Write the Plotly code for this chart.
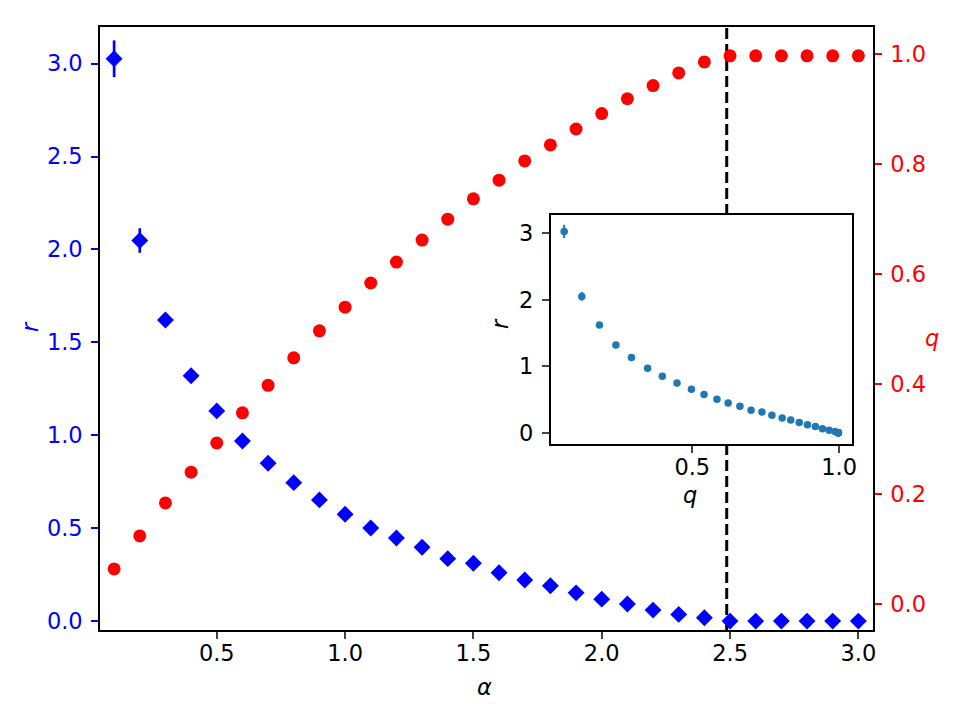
import plotly.graph_objects as go

alpha = [round(0.1 * i, 1) for i in range(1, 31)]
r_vals = [3.026, 2.048, 1.62, 1.32, 1.131, 0.969, 0.849, 0.745, 0.652, 0.575,
          0.501, 0.447, 0.397, 0.336, 0.311, 0.260, 0.221, 0.190, 0.152, 0.118,
          0.092, 0.059, 0.036, 0.018, 0.0, 0.0, 0.0, 0.0, 0.0, 0.0]
r_err = [0.099, 0.066, 0.02, 0.012, 0.008, 0.006, 0.005, 0.004, 0.004, 0.003,
         0.003, 0.003, 0.002, 0.002, 0.002, 0.002, 0.002, 0.002, 0.002, 0.002,
         0.001, 0.001, 0.001, 0.001, 0.0, 0.0, 0.0, 0.0, 0.0, 0.0]
q_vals = [0.064, 0.124, 0.184, 0.240, 0.293, 0.348, 0.398, 0.448, 0.497, 0.540,
          0.584, 0.622, 0.662, 0.700, 0.737, 0.771, 0.806, 0.835, 0.864, 0.892,
          0.919, 0.943, 0.966, 0.986, 0.997, 0.997, 0.997, 0.997, 0.997, 0.997]
alpha_c = 2.487

FONT = "DejaVu Sans"
FS = 22.5
BLUE = "#0000ff"
RED = "#ff0000"
TAB = "#1f77b4"

fig = go.Figure()

# vertical dashed line (main axes)
fig.add_trace(go.Scatter(x=[alpha_c, alpha_c], y=[-1, 5], mode="lines",
                         line=dict(color="black", width=3, dash="11px,5px"),
                         xaxis="x", yaxis="y", showlegend=False, hoverinfo="skip"))

fig.add_trace(go.Scatter(x=alpha, y=r_vals, mode="markers",
                         marker=dict(symbol="diamond", size=13, color=BLUE),
                         error_y=dict(type="data", array=r_err, color=BLUE, thickness=2.7, width=0),
                         xaxis="x", yaxis="y", showlegend=False))

fig.add_trace(go.Scatter(x=alpha, y=q_vals, mode="markers",
                         marker=dict(symbol="circle", size=13, color=RED),
                         xaxis="x", yaxis="y2", showlegend=False))

# inset: r vs q
fig.add_trace(go.Scatter(x=q_vals, y=r_vals, mode="markers",
                         marker=dict(symbol="circle", size=7.5, color=TAB),
                         error_y=dict(type="data", array=r_err, color=TAB, thickness=2, width=0),
                         xaxis="x3", yaxis="y3", showlegend=False))

axis_common = dict(showline=True, linecolor="black", linewidth=1.6, ticks="outside",
                   ticklen=7, tickwidth=1.6, showgrid=False, zeroline=False,
                   tickfont=dict(family=FONT, size=FS, color="black"))

fig.update_layout(
    width=960, height=720,
    margin=dict(l=100, r=87, t=27, b=90),
    paper_bgcolor="white", plot_bgcolor="white",
    font=dict(family=FONT, size=FS),
    xaxis=dict(**axis_common, domain=[0, 1], range=[0.045, 3.057], mirror=True,
               ticklabelstandoff=-5,
               tickvals=[0.5, 1.0, 1.5, 2.0, 2.5, 3.0], ticktext=["0.5", "1.0", "1.5", "2.0", "2.5", "3.0"],
               anchor="y"),
    yaxis=dict(**{**axis_common, "tickfont": dict(family=FONT, size=FS, color=BLUE), "tickcolor": BLUE},
               ticklabelstandoff=4,
               domain=[0, 1], range=[-0.048, 3.197], anchor="x",
               tickvals=[0, 0.5, 1.0, 1.5, 2.0, 2.5, 3.0],
               ticktext=["0.0", "0.5", "1.0", "1.5", "2.0", "2.5", "3.0"]),
    yaxis2=dict(**{**axis_common, "tickfont": dict(family=FONT, size=FS, color=RED), "tickcolor": RED},
                ticklabelstandoff=4,
                overlaying="y", side="right", anchor="x", range=[-0.047, 1.0495],
                tickvals=[0, 0.2, 0.4, 0.6, 0.8, 1.0],
                ticktext=["0.0", "0.2", "0.4", "0.6", "0.8", "1.0"]),
    xaxis3=dict(**axis_common, mirror=True, domain=[0.583, 0.973], range=[0.018, 1.044], anchor="y3",
                ticklabelstandoff=-5,
                tickvals=[0.5, 1.0], ticktext=["0.5", "1.0"]),
    yaxis3=dict(**axis_common, mirror=True, domain=[0.3085, 0.689], range=[-0.17, 3.28], anchor="x3",
                ticklabelstandoff=4,
                tickvals=[0, 1, 2, 3], ticktext=["0", "1", "2", "3"]),
)

def px_to_paper(px, py):
    return (px - 100) / 773, (630 - py) / 603

annos = [
    ("<i>r</i>", 30, 327, -90, BLUE),
    ("<i>q</i>", 932, 338, 0, RED),
    ("<i>α</i>", 484, 687, 0, "black"),
    ("<i>r</i>", 500, 324, -90, "black"),
    ("<i>q</i>", 690, 495, 0, "black"),
]
for text, ax_, ay_, ang, col in annos:
    xp, yp = px_to_paper(ax_, ay_)
    fig.add_annotation(text=text, x=xp, y=yp, xref="paper", yref="paper",
                       xanchor="center", yanchor="middle", showarrow=False,
                       textangle=ang, font=dict(family=FONT, size=FS, color=col))

fig.write_html("out.html")
